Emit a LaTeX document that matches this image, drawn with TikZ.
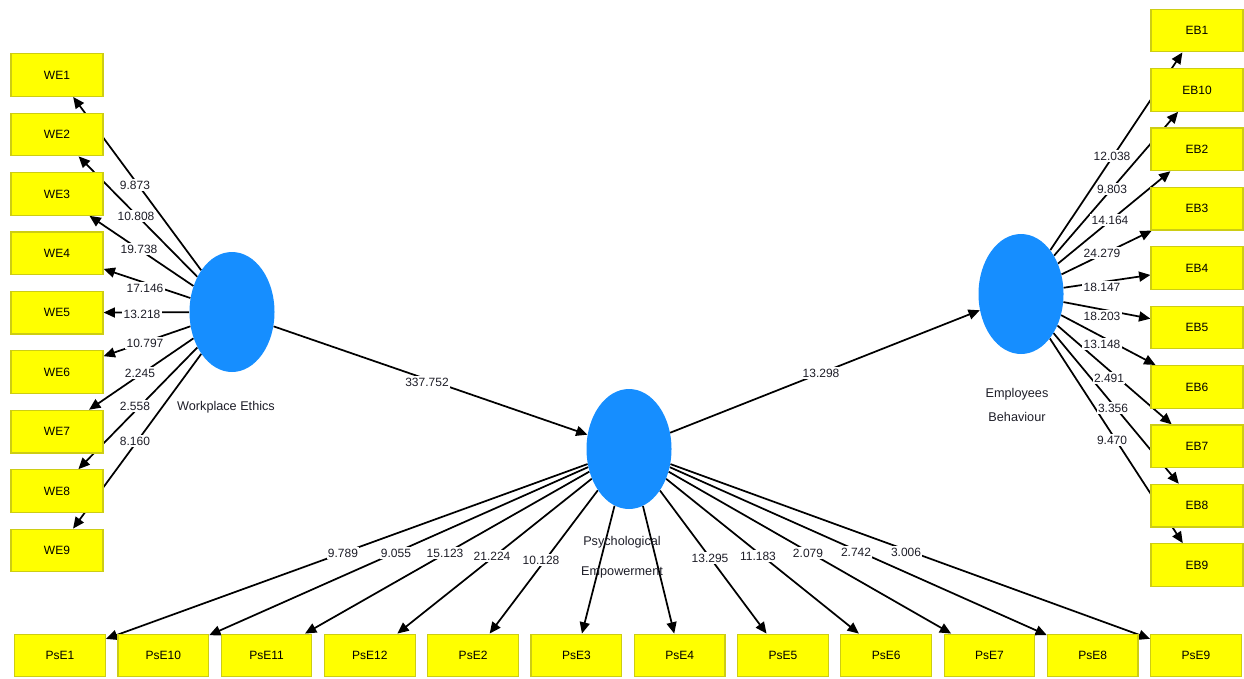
\documentclass[tikz,border=0pt]{standalone}
\usepackage{fontspec}
\setmainfont{Liberation Sans}
\usetikzlibrary{arrows.meta,shapes.geometric}
\pgfdeclarelayer{bg}
\pgfsetlayers{bg,main}
\definecolor{lvblue}{RGB}{22,142,255}
\definecolor{indyellow}{RGB}{255,255,0}
\definecolor{indborder}{RGB}{205,205,20}
\definecolor{txtdark}{RGB}{30,30,40}
\begin{document}
\begin{tikzpicture}[x=0.75pt,y=-0.75pt,
  ind/.style={draw=indborder, fill=indyellow, line width=0.9pt, minimum width=69pt, minimum height=32pt, inner sep=0pt, font=\fontsize{9}{10}\selectfont},
  psind/.style={ind, minimum width=68pt},
  lv/.style={ellipse, fill=lvblue, minimum width=63.75pt, minimum height=90pt, inner sep=0pt},
  conn/.style={line width=1.3pt, -{Triangle[length=8.5pt,width=7.5pt]}},
  coef/.style={fill=white, inner sep=1pt, text=txtdark, font=\fontsize{9}{10}\selectfont},
  lvlabel/.style={align=center, inner sep=0pt, text=txtdark}
]
\useasboundingbox (0,0) rectangle (1244,678);

% latent variables
\node[lv] (we) at (232,312) {};
\node[lv] (pse) at (629,449) {};
\node[lv] (eb) at (1021,294) {};

\node[lvlabel, font=\fontsize{9.5}{10}\selectfont] (welab) at (226,407) {Workplace Ethics};
\node[lvlabel, font=\fontsize{9.5}{18}\selectfont] (eblab) at (1017,405) {Employees\\Behaviour};
\node[lvlabel, font=\fontsize{9.5}{22.5}\selectfont] (pselab) at (622,557) {Psychological\\Empowerment};

% indicators
\foreach \n [count=\i from 0] in {WE1,WE2,WE3,WE4,WE5,WE6,WE7,WE8,WE9}
  \node[ind] (\n) at (57,{75+59.44*\i}) {\n};
\foreach \n [count=\i from 0] in {EB1,EB10,EB2,EB3,EB4,EB5,EB6,EB7,EB8,EB9}
  \node[ind] (\n) at (1197,{30.5+59.4*\i}) {\n};
\foreach \n [count=\i from 0] in {PsE1,PsE10,PsE11,PsE12,PsE2,PsE3,PsE4,PsE5,PsE6,PsE7,PsE8,PsE9}
  \node[psind] (\n) at ({60+103.27*\i},655.5) {\n};

% connectors
\begin{pgfonlayer}{bg}
  \foreach \n in {WE1,WE2,WE3,WE4,WE5,WE6,WE7,WE8,WE9}
    \draw[conn] (we) -- (\n);
  \foreach \n in {EB1,EB10,EB2,EB3,EB4,EB5,EB6,EB7,EB8,EB9}
    \draw[conn] (eb) -- (\n);
  \foreach \n in {PsE1,PsE10,PsE11,PsE12,PsE2,PsE3,PsE4,PsE5,PsE6,PsE7,PsE8,PsE9}
    \draw[conn] (pse) -- (\n);
  \draw[conn] (we) -- (pse);
  \draw[conn] (pse) -- (eb);
\end{pgfonlayer}

% coefficients
\node[coef] (c1) at (427,382) {337.752};
\node[coef] (c2) at (821,373) {13.298};
\foreach \t/\x/\y [count=\i] in {9.873/135/185, 10.808/136/216, 19.738/139/249, 17.146/145/288, 13.218/142/314, 10.797/145/343, 2.245/140/373, 2.558/135/406, 8.160/135/441}
  \node[coef] (cw\i) at (\x,\y) {\t};
\foreach \t/\x/\y [count=\i] in {12.038/1112/156, 9.803/1112/189, 14.164/1110/220, 24.279/1102/253, 18.147/1102/287, 18.203/1102/316, 13.148/1102/344, 2.491/1109/378, 3.356/1113/408, 9.470/1112/440}
  \node[coef] (ce\i) at (\x,\y) {\t};
\foreach \t/\x/\y [count=\i] in {9.789/343/553, 9.055/396/553, 15.123/445/553, 21.224/492/556, 10.128/541/560, 13.295/710/558, 11.183/758/556, 2.079/808/553, 2.742/856/552, 3.006/906/552}
  \node[coef] (cp\i) at (\x,\y) {\t};
\end{tikzpicture}
\end{document}
